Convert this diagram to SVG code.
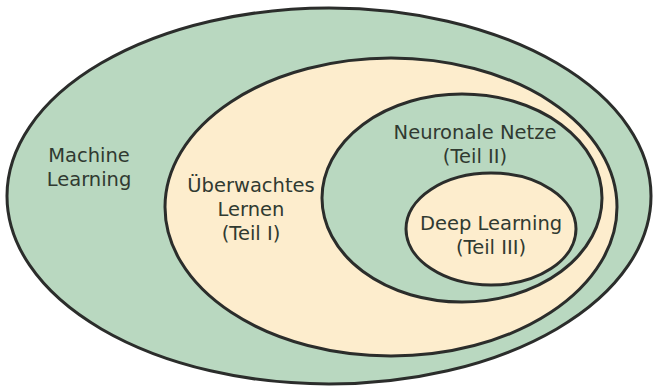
<svg xmlns="http://www.w3.org/2000/svg" width="656" height="389" viewBox="0 0 656 389">
<style>
.ring{stroke:#2b2d2b;stroke-width:3;}
.g{fill:#b9d8c0;}
.y{fill:#fdedcd;}
text{font-family:"DejaVu Sans","Liberation Sans",sans-serif;font-size:19.5px;fill:#303a31;text-anchor:middle;}
</style>
<rect width="656" height="389" fill="#ffffff"/>
<g id="machine-learning">
<ellipse class="ring g" cx="329" cy="196" rx="322" ry="188"/>
<text x="89" y="162">Machine</text>
<text x="89" y="186">Learning</text>
</g>
<g id="ueberwachtes-lernen">
<ellipse class="ring y" cx="391" cy="207" rx="226" ry="149"/>
<text x="251" y="192">Überwachtes</text>
<text x="251" y="216">Lernen</text>
<text x="251" y="240">(Teil I)</text>
</g>
<g id="neuronale-netze">
<ellipse class="ring g" cx="462" cy="198" rx="140" ry="104"/>
<text x="475" y="139">Neuronale Netze</text>
<text x="475" y="163">(Teil II)</text>
</g>
<g id="deep-learning">
<ellipse class="ring y" cx="491" cy="229" rx="85" ry="56"/>
<text x="491" y="230">Deep Learning</text>
<text x="491" y="254">(Teil III)</text>
</g>
<g id="connectors"></g>
</svg>
